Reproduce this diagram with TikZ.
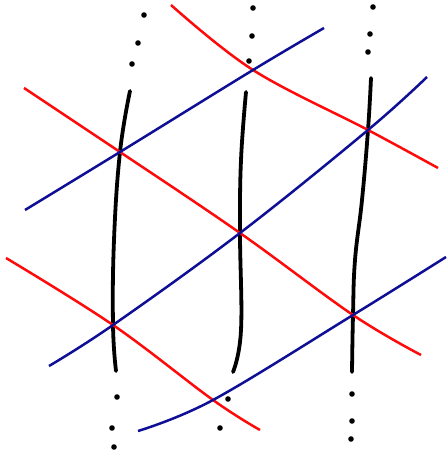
\documentclass[tikz,border=0pt]{standalone}
\definecolor{netblue}{RGB}{15,15,150}
\definecolor{netred}{RGB}{255,10,10}
\begin{document}
\begin{tikzpicture}[x=1pt, y=-1pt,
	strand/.style={line width=3.8pt, line cap=round},
	redline/.style={line width=2.5pt, netred},
	blueline/.style={line width=2.5pt, netblue},
	dot/.style={fill=black}]
	\useasboundingbox (0,0) rectangle (447,452);
	% vertical strands
	\draw[strand] plot[smooth, tension=0.7]
	coordinates {(130,91) (120,152) (114,240) (113,325) (116,371)};
	\draw[strand] plot[smooth, tension=0.7]
	coordinates {(246,92) (241,160) (240,233) (241,330) (233,372)};
	\draw[strand] plot[smooth, tension=0.7]
	coordinates {(371,78) (368,130) (362,200) (355,260) (353,315) (352,372)};
	% red lines
	\draw[redline] plot[smooth, tension=0.6]
	coordinates {(171,5) (253,70) (368,130) (438,168)};
	\draw[redline] plot[smooth, tension=0.6]
	coordinates {(24,88) (120,152) (240,233) (353,315) (421,355)};
	\draw[redline] plot[smooth, tension=0.6]
	coordinates {(6,258) (113,325) (213,400) (260,430)};
	% blue lines
	\draw[blueline] plot[smooth, tension=0.6]
	coordinates {(25,210) (120,152) (253,70) (324,28)};
	\draw[blueline] plot[smooth, tension=0.6]
	coordinates {(49,366) (113,325) (240,233) (368,130) (427,77)};
	\draw[blueline] plot[smooth, tension=0.6]
	coordinates {(138,431) (213,400) (353,315) (446,257)};
	% dots
	\fill[dot] (144,15) circle (2.8) (138,43) circle (2.8) (132,64) circle (2.8);
	\fill[dot] (253,8) circle (2.8) (252,36) circle (2.8) (249,61) circle (2.8);
	\fill[dot] (373,7) circle (2.8) (370,34) circle (2.8) (368,52) circle (2.8);
	\fill[dot] (117,397) circle (2.8) (112,428) circle (2.8) (114,447) circle (2.8);
	\fill[dot] (228,399) circle (2.8) (220,428) circle (2.8);
	\fill[dot] (352,394) circle (2.8) (352,421) circle (2.8) (351,439) circle (2.8);
\end{tikzpicture}
\end{document}
